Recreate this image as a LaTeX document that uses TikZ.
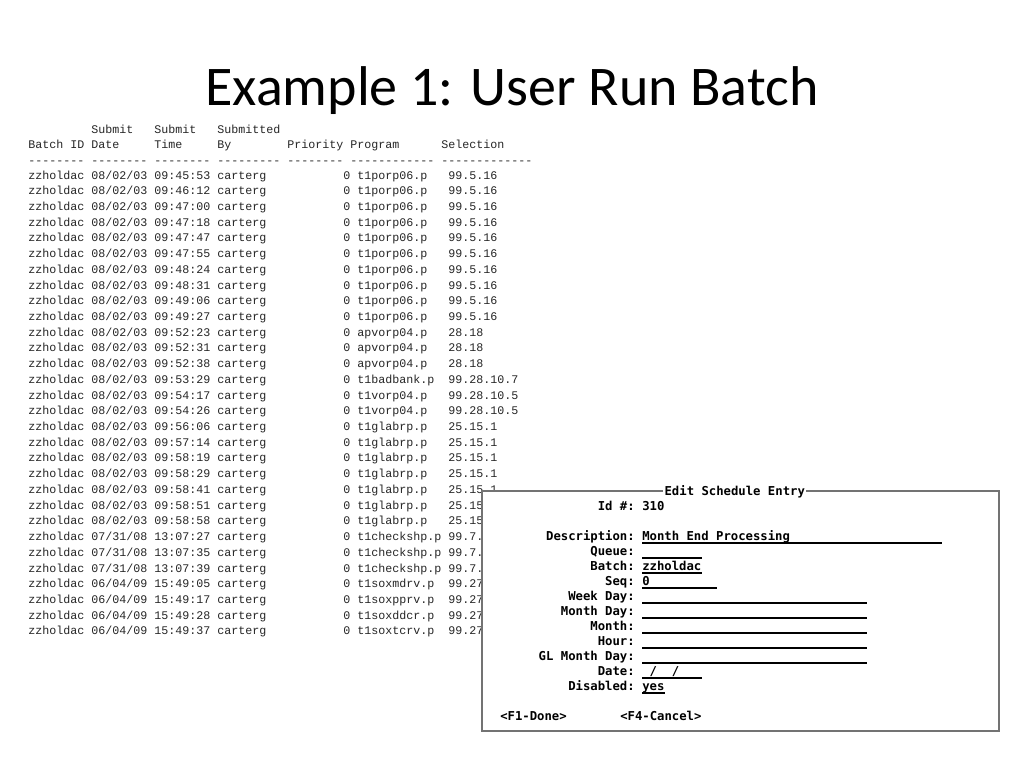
\documentclass[tikz,border=0pt]{standalone}
\usepackage{fontspec}
\setmainfont{Carlito}
\newfontfamily\tabfont{Liberation Mono}
\newfontfamily\dosfont{DejaVu Sans Mono}[BoldFont={DejaVu Sans Mono Bold}]
\begin{document}
\begin{tikzpicture}[x=0.75pt,y=-0.75pt,
  row/.style={anchor=base west,inner sep=0pt,font=\tabfont\fontsize{8.75pt}{10pt}\selectfont,text=black!85},
  lab/.style={anchor=base east,inner sep=0pt,font=\dosfont\bfseries\fontsize{9.2pt}{10pt}\selectfont},
  val/.style={anchor=base west,inner sep=0pt,font=\dosfont\bfseries\fontsize{9.2pt}{10pt}\selectfont},
  ul/.style={line width=0.8pt}]
\useasboundingbox (0,0) rectangle (1024,768);
\fill[white] (0,0) rectangle (1024,768);
\node[anchor=base,font=\fontsize{42pt}{46pt}\selectfont] (title) at (512,105) {Example 1: User Run Batch};
\node[row] (h1) at (28,133) {~~~~~~~~~Submit~~~Submit~~~Submitted};
\node[row] (h2) at (28,148) {Batch~ID~Date~~~~~Time~~~~~By~~~~~~~~Priority~Program~~~~~~Selection};
\node[row] (h3) at (28,164) {--------~--------~--------~---------~--------~------------~-------------};
\foreach \d/\t/\p/\s [count=\i from 0] in {
{08/02/03}/09:45:53/t1porp06.p~~~/99.5.16,
{08/02/03}/09:46:12/t1porp06.p~~~/99.5.16,
{08/02/03}/09:47:00/t1porp06.p~~~/99.5.16,
{08/02/03}/09:47:18/t1porp06.p~~~/99.5.16,
{08/02/03}/09:47:47/t1porp06.p~~~/99.5.16,
{08/02/03}/09:47:55/t1porp06.p~~~/99.5.16,
{08/02/03}/09:48:24/t1porp06.p~~~/99.5.16,
{08/02/03}/09:48:31/t1porp06.p~~~/99.5.16,
{08/02/03}/09:49:06/t1porp06.p~~~/99.5.16,
{08/02/03}/09:49:27/t1porp06.p~~~/99.5.16,
{08/02/03}/09:52:23/apvorp04.p~~~/28.18,
{08/02/03}/09:52:31/apvorp04.p~~~/28.18,
{08/02/03}/09:52:38/apvorp04.p~~~/28.18,
{08/02/03}/09:53:29/t1badbank.p~~/99.28.10.7,
{08/02/03}/09:54:17/t1vorp04.p~~~/99.28.10.5,
{08/02/03}/09:54:26/t1vorp04.p~~~/99.28.10.5,
{08/02/03}/09:56:06/t1glabrp.p~~~/25.15.1,
{08/02/03}/09:57:14/t1glabrp.p~~~/25.15.1,
{08/02/03}/09:58:19/t1glabrp.p~~~/25.15.1,
{08/02/03}/09:58:29/t1glabrp.p~~~/25.15.1,
{08/02/03}/09:58:41/t1glabrp.p~~~/25.15.1,
{08/02/03}/09:58:51/t1glabrp.p~~~/25.15,
{08/02/03}/09:58:58/t1glabrp.p~~~/25.15,
{07/31/08}/13:07:27/t1checkshp.p~/99.7.,
{07/31/08}/13:07:35/t1checkshp.p~/99.7.,
{07/31/08}/13:07:39/t1checkshp.p~/99.7.,
{06/04/09}/15:49:05/t1soxmdrv.p~~/99.27,
{06/04/09}/15:49:17/t1soxpprv.p~~/99.27,
{06/04/09}/15:49:28/t1soxddcr.p~~/99.27,
{06/04/09}/15:49:37/t1soxtcrv.p~~/99.27}
  \node[row] (r\i) at (28,{179+15.72*\i}) {zzholdac~\d~\t~carterg~~~~~~~~~~~0~\p\s};
% edit box
\draw[fill=white,draw=black!55,line width=1pt] (482,491) rectangle (999,731);
\node[val,fill=white,inner sep=1pt] (boxtitle) at (663,495) {Edit Schedule Entry};
\foreach \l/\y/\n in {Id \#:/510/id,Description:/540/de,Queue:/555/qu,Batch:/570/ba,Seq:/585/se,Week Day:/600/wd,Month Day:/615/md,Month:/630/mo,Hour:/645/ho,GL Month Day:/660/gl,Date:/675/da,Disabled:/690/di}
  \node[lab] (l\n) at (635,\y) {\l};
\node[val] (vid) at (642,510) {310};
\node[val] (vde) at (642,540) {Month End Processing};
\node[val] (vba) at (642,570) {zzholdac};
\node[val] (vse) at (642,585) {0};
\node[val] (vda) at (642,675) {~{/}~~{/}};
\node[val] (vdi) at (642,690) {yes};
\draw[ul] (642,543) -- (942,543);
\foreach \y/\e in {558/702,573/702,588/717,603/867,618/867,633/867,648/867,663/867,678/702,693/665}
  \draw[ul] (642,\y) -- (\e,\y);
\node[val] (f1) at (500,720) {<F1-Done>};
\node[val] (f4) at (620,720) {<F4-Cancel>};
\end{tikzpicture}
\end{document}
